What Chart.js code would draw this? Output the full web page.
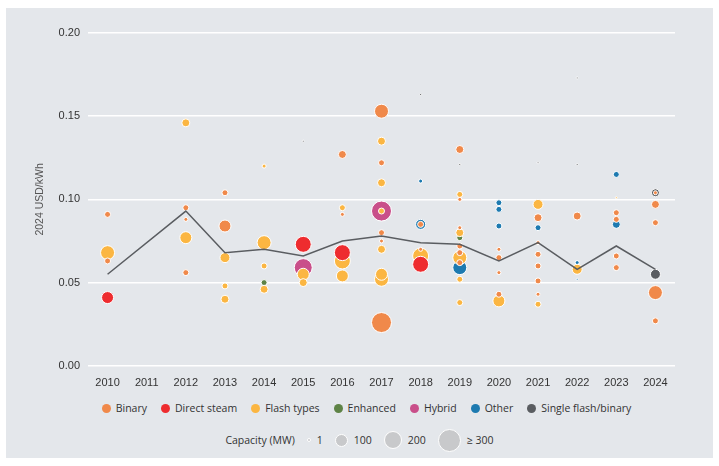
<!DOCTYPE html>
<html><head><meta charset="utf-8">
<script src="https://cdn.jsdelivr.net/npm/chart.js@4"></script>
<style>
body{margin:0;background:#fff;font-family:"Open Sans",sans-serif;}
#panel{position:absolute;left:6px;top:8px;width:707px;height:450px;background:#e4e7eb;}
#wrap{position:absolute;left:0;top:0;width:707px;height:388px;}
.leg{position:absolute;left:0;width:707px;text-align:center;font-size:10.5px;color:#333;}
.leg span{display:inline-block;vertical-align:middle;}
.dot{width:9px;height:9px;border-radius:50%;margin:0 5px 0 14px;}
.cap{border-radius:50%;background:#c8c9cb;border:1px solid #fff;margin:0 6px 0 12px;}
</style></head>
<body>
<div id="panel">
<div id="wrap"><canvas id="myChart"></canvas></div>
<div class="leg" id="typeLegend" style="top:392px"></div>
<div class="leg" style="top:420px;line-height:22px">
<span>Capacity (MW)</span><span class="cap" style="width:2px;height:2px"></span><span>1</span><span class="cap" style="width:11px;height:11px"></span><span>100</span><span class="cap" style="width:16px;height:16px"></span><span>200</span><span class="cap" style="width:21px;height:21px"></span><span>≥ 300</span>
</div>
</div>
<script>
const years = ['2010','2011','2012','2013','2014','2015','2016','2017','2018','2019','2020','2021','2022','2023','2024']
const average = [0.055,null,0.093,0.068,0.070,0.066,0.075,0.078,0.074,0.073,0.063,0.074,0.058,0.072,0.058]

const types = ['Binary','Direct steam','Flash types','Enhanced','Hybrid','Other','Single flash/binary']
const colors = ['#f0894a','#ee2c2f','#fbb642','#5e8346','#c94f8a','#1d7ab0','#5a5d61']

// [year, USD/kWh, radius]
const binary = [
  ['2010',0.091,3],['2010',0.063,3],['2012',0.095,3],['2012',0.088,2],['2012',0.056,3],
  ['2013',0.104,3],['2013',0.084,6],['2016',0.127,4],['2016',0.091,2],
  ['2017',0.153,7],['2017',0.122,3],['2017',0.080,3],['2017',0.075,2],['2017',0.026,10],
  ['2018',0.085,3],['2018',0.070,2],
  ['2019',0.130,4],['2019',0.100,2],['2019',0.083,2],['2019',0.072,3],['2019',0.068,3],['2019',0.062,3],
  ['2020',0.070,2],['2020',0.065,3],['2020',0.056,2],['2020',0.043,3],
  ['2021',0.089,4],['2021',0.074,2],['2021',0.067,3],['2021',0.060,3],['2021',0.051,3],['2021',0.043,2],
  ['2022',0.090,4],['2023',0.092,3],['2023',0.088,3],['2023',0.066,3],['2023',0.059,3],
  ['2024',0.104,2],['2024',0.097,4],['2024',0.086,3],['2024',0.044,7],['2024',0.027,3]
]
const directSteam = [['2010',0.041,6],['2015',0.073,8],['2016',0.068,8],['2018',0.061,8]]
const flashTypes = [
  ['2010',0.068,7],['2012',0.146,4],['2012',0.077,6],['2013',0.065,5],['2013',0.048,3],['2013',0.040,4],
  ['2014',0.120,2],['2014',0.074,7],['2014',0.060,3],['2014',0.046,4],
  ['2015',0.055,6],['2015',0.050,4],['2016',0.095,3],['2016',0.063,8],['2016',0.054,6],
  ['2017',0.135,4],['2017',0.110,4],['2017',0.093,3],['2017',0.070,4],['2017',0.052,7],['2017',0.055,6],
  ['2018',0.066,8],['2019',0.103,3],['2019',0.080,4],['2019',0.065,7],['2019',0.052,3],['2019',0.038,3],
  ['2020',0.039,6],['2021',0.097,5],['2021',0.037,3],['2022',0.058,5],['2023',0.101,1]
]
const enhanced = [['2014',0.050,3],['2019',0.077,3]]
const hybrid = [['2015',0.059,9],['2017',0.093,10]]
const other = [
  ['2018',0.111,2],['2018',0.085,5],['2019',0.059,7],['2020',0.098,3],['2020',0.094,3],['2020',0.084,3],
  ['2021',0.083,3],['2022',0.062,2],['2022',0.052,1],['2023',0.115,3],['2023',0.085,4]
]
const singleFlash = [['2015',0.135,1],['2018',0.163,1],['2019',0.121,1],['2021',0.122,1],['2022',0.173,1],['2022',0.121,1],['2024',0.104,4],['2024',0.055,5]]

const series = [binary,directSteam,flashTypes,enhanced,hybrid,other,singleFlash]

document.getElementById('typeLegend').innerHTML = types.map((t,i) =>
  `<span class="dot" style="background:${colors[i]}"></span><span>${t}</span>`).join('')

const datasets = [{
  type: 'line', label: 'Average', data: average, borderColor: '#5a5d61', borderWidth: 1.5,
  pointRadius: 0, spanGaps: true, fill: false, order: 0
}]
series.forEach((s, i) => {
  datasets.push({
    type: 'bubble', label: types[i],
    data: s.map(p => ({x: p[0], y: p[1], r: p[2]})),
    backgroundColor: colors[i], borderColor: '#ffffff', borderWidth: 1, order: 1
  })
})

new Chart(document.getElementById('myChart'), {
  data: {labels: years, datasets},
  options: {
    responsive: true, maintainAspectRatio: false, animation: false,
    layout: {padding: {left: 24, right: 38, top: 25, bottom: 3}},
    plugins: {legend: {display: false}, tooltip: {enabled: false}},
    scales: {
      x: {type: 'category', offset: true, grid: {display: false}, border: {display: false},
          ticks: {color: '#333', font: {size: 11}}},
      y: {min: 0, max: 0.2, border: {display: false},
          grid: {color: '#ffffff', lineWidth: 1.5, drawTicks: false},
          ticks: {stepSize: 0.05, padding: 8, color: '#333', font: {size: 11}, callback: v => v.toFixed(2)},
          title: {display: true, text: '2024 USD/kWh', color: '#555', font: {size: 10.5}}}
    }
  }
})
</script>
</body></html>
